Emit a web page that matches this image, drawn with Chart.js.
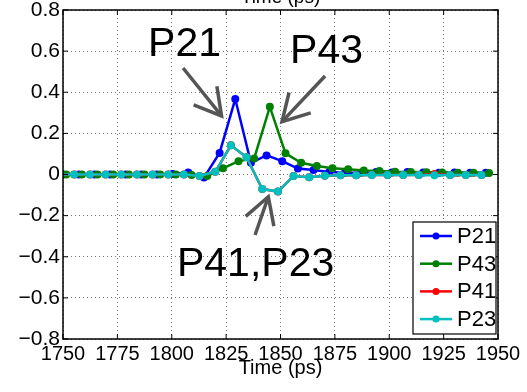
<!DOCTYPE html>
<html>
<head>
<meta charset="utf-8">
<script src="https://cdn.jsdelivr.net/npm/chart.js@4"></script>
<style>
html, body { margin: 0; padding: 0; background: #fff; }
</style>
</head>
<body>
<canvas id="metricChart" width="527" height="392"></canvas>
<script>
// series names and colours (legend order)
const seriesNames = ['P21', 'P43', 'P41', 'P23'];
const seriesColors = ['#0000ff', '#008000', '#ff0000', '#00bfbf'];

// sample times (ps) for each trace
const timeP21 = [1750.0, 1757.2, 1764.4, 1771.6, 1778.8, 1786.0, 1793.2, 1800.4, 1807.6, 1814.8,
                 1822.0, 1829.2, 1836.4, 1843.6, 1850.8, 1858.0, 1865.2, 1872.4, 1879.6, 1886.8,
                 1894.0, 1901.2, 1908.4, 1915.6, 1922.8, 1930.0, 1937.2, 1944.4];
const timeP43 = [1751.5, 1758.7, 1765.9, 1773.1, 1780.3, 1787.5, 1794.7, 1801.9, 1809.1, 1816.3,
                 1823.5, 1830.7, 1837.9, 1845.1, 1852.3, 1859.5, 1866.7, 1873.9, 1881.1, 1888.3,
                 1895.5, 1902.7, 1909.9, 1917.1, 1924.3, 1931.5, 1938.7, 1945.9];
const timeP41 = [1748.0, 1755.2, 1762.4, 1769.6, 1776.8, 1784.0, 1791.2, 1798.4, 1805.6, 1812.8,
                 1820.0, 1827.2, 1834.4, 1841.6, 1848.8, 1856.0, 1863.2, 1870.4, 1877.6, 1884.8,
                 1892.0, 1899.2, 1906.4, 1913.6, 1920.8, 1928.0, 1935.2, 1942.4];
const timeP23 = timeP41;

// values
const valP21 = [0, 0, 0, 0, 0, 0, 0, 0.002, 0.01, -0.015,
                0.105, 0.367, 0.057, 0.093, 0.065, 0.029, 0.022, 0.012, 0.009, 0.009,
                0.012, 0.01, 0.012, 0.01, 0.008, 0.01, 0.008, 0.008];
const valP43 = [0, 0, 0, 0, 0, 0, 0, 0, -0.003, -0.007,
                0.03, 0.065, 0.078, 0.329, 0.103, 0.057, 0.041, 0.03, 0.025, 0.02,
                0.017, 0.013, 0.012, 0.011, 0.01, 0.008, 0.008, 0.007];
const valP41 = [0, 0, 0, 0, 0, 0, 0, 0, 0, -0.007,
                0.013, 0.142, 0.084, -0.071, -0.083, -0.007, -0.013, -0.006, -0.004, -0.004,
                -0.003, -0.003, -0.003, -0.003, 0.002, -0.003, -0.003, -0.002];
const valP23 = [0, 0, 0, 0, 0, 0, 0, 0, 0, -0.007,
                0.013, 0.142, 0.084, -0.071, -0.083, -0.007, -0.013, -0.006, -0.004, -0.004,
                -0.003, -0.003, -0.003, -0.003, -0.004, -0.003, -0.003, -0.002];

// axis ticks
const xTicks = [1750, 1775, 1800, 1825, 1850, 1875, 1900, 1925, 1950];
const yTicks = [-0.8, -0.6, -0.4, -0.2, 0, 0.2, 0.4, 0.6, 0.8];

// annotations: [text, time, value] for the label, arrows as [tailT, tailV, tipT, tipV]
const noteLabels = [['P21', 1789.1, 0.575], ['P43', 1854.4, 0.54], ['P41,P23', 1802.4, -0.494]];
const noteArrows = [[1805.2, 0.518, 1822.9, 0.285], [1870.5, 0.479, 1850.7, 0.257], [1838.3, -0.294, 1844.4, -0.108]];

const FONT = '"Liberation Sans", Arial, sans-serif';

function toXY(times, vals)
{
    return times.map((t, i) => ({x: t, y: vals[i]}));
}

const allTimes = [timeP21, timeP43, timeP41, timeP23];
const allVals = [valP21, valP43, valP41, valP23];
const drawOrder = [3, 2, 1, 0];

const datasets = seriesNames.map((name, i) => ({
    label: name,
    data: toXY(allTimes[i], allVals[i]),
    borderColor: seriesColors[i],
    backgroundColor: seriesColors[i],
    borderWidth: 2.5,
    pointRadius: 4,
    pointBorderWidth: 0,
    pointHoverRadius: 4,
    tension: 0,
    order: drawOrder[i]
}));

function fmtY(v)
{
    if (Math.abs(v) < 1e-9) return '0';
    return (v < 0 ? '\u2212' : '') + Math.abs(v).toFixed(1);
}

const decorPlugin = {
    id: 'decor',
    afterDatasetsDraw(chart)
    {
        const {ctx, chartArea: a, scales: {x, y}} = chart;
        ctx.save();

        // frame and inward ticks
        ctx.strokeStyle = '#000';
        ctx.lineWidth = 1.5;
        ctx.strokeRect(a.left, a.top, a.right - a.left, a.bottom - a.top);
        ctx.lineWidth = 1;
        ctx.beginPath();
        xTicks.forEach(t => {
            const px = x.getPixelForValue(t);
            ctx.moveTo(px, a.bottom); ctx.lineTo(px, a.bottom - 5);
            ctx.moveTo(px, a.top); ctx.lineTo(px, a.top + 5);
        });
        yTicks.forEach(v => {
            const py = y.getPixelForValue(v);
            ctx.moveTo(a.left, py); ctx.lineTo(a.left + 5, py);
            ctx.moveTo(a.right, py); ctx.lineTo(a.right - 5, py);
        });
        ctx.stroke();

        // annotation arrows
        ctx.strokeStyle = '#555';
        ctx.lineWidth = 3.5;
        ctx.lineCap = 'butt';
        ctx.lineJoin = 'miter';
        noteArrows.forEach(([t1, v1, t2, v2]) => {
            const x1 = x.getPixelForValue(t1), y1 = y.getPixelForValue(v1);
            const x2 = x.getPixelForValue(t2), y2 = y.getPixelForValue(v2);
            const ang = Math.atan2(y1 - y2, x1 - x2);
            ctx.beginPath();
            ctx.moveTo(x1, y1); ctx.lineTo(x2, y2);
            ctx.stroke();
            ctx.beginPath();
            ctx.moveTo(x2 + 30 * Math.cos(ang + 0.52), y2 + 30 * Math.sin(ang + 0.52));
            ctx.lineTo(x2, y2);
            ctx.lineTo(x2 + 30 * Math.cos(ang - 0.52), y2 + 30 * Math.sin(ang - 0.52));
            ctx.stroke();
        });

        // annotation text
        ctx.fillStyle = '#000';
        ctx.font = '41px ' + FONT;
        ctx.textAlign = 'left';
        ctx.textBaseline = 'alphabetic';
        noteLabels.forEach(([txt, t, v]) => {
            ctx.fillText(txt, x.getPixelForValue(t), y.getPixelForValue(v));
        });

        // legend box
        const lx = a.right - 85, ly = a.bottom - 117, lw = 83, lh = 112;
        ctx.fillStyle = '#fff';
        ctx.fillRect(lx, ly, lw, lh);
        ctx.strokeStyle = '#000';
        ctx.lineWidth = 1.2;
        ctx.strokeRect(lx, ly, lw, lh);
        ctx.font = '22px ' + FONT;
        ctx.textBaseline = 'middle';
        seriesNames.forEach((name, i) => {
            const ry = ly + 14 + i * 27.7;
            ctx.strokeStyle = seriesColors[i];
            ctx.lineWidth = 2.5;
            ctx.beginPath();
            ctx.moveTo(lx + 7, ry); ctx.lineTo(lx + 39, ry);
            ctx.stroke();
            ctx.fillStyle = seriesColors[i];
            ctx.beginPath();
            ctx.arc(lx + 23, ry, 3.5, 0, Math.PI * 2);
            ctx.fill();
            ctx.fillStyle = '#000';
            ctx.fillText(name, lx + 44, ry + 1);
        });

        // cut-off axis title of the panel above
        ctx.font = '19px ' + FONT;
        ctx.textAlign = 'center';
        ctx.textBaseline = 'alphabetic';
        ctx.fillText('Time (ps)', (a.left + a.right) / 2, 3);

        ctx.restore();
    }
};

const ctx = document.getElementById('metricChart').getContext('2d');
new Chart(ctx, {
    type: 'line',
    data: { datasets: datasets },
    options: {
        responsive: false,
        animation: false,
        devicePixelRatio: 1,
        layout: { padding: { top: 10, right: 29, left: 0, bottom: 0 } },
        plugins: {
            legend: { display: false },
            tooltip: { enabled: false }
        },
        scales: {
            x: {
                type: 'linear',
                min: 1750,
                max: 1950,
                afterBuildTicks: s => { s.ticks = xTicks.map(v => ({value: v})); },
                afterFit: s => { s.height = 53; s.paddingLeft = 0; s.paddingRight = 0; },
                ticks: {
                    color: '#000',
                    padding: 3,
                    maxRotation: 0,
                    autoSkip: false,
                    font: { family: FONT, size: 20 },
                    callback: v => String(v)
                },
                grid: { color: 'rgba(0,0,0,0.55)', lineWidth: 1, drawTicks: false },
                border: { display: false, dash: [1, 3] },
                title: {
                    display: true,
                    text: 'Time (ps)',
                    color: '#000',
                    font: { family: FONT, size: 20 },
                    padding: { top: 0, bottom: 12 }
                }
            },
            y: {
                type: 'linear',
                min: -0.8,
                max: 0.8,
                afterBuildTicks: s => { s.ticks = yTicks.map(v => ({value: v})); },
                afterFit: s => { s.width = 63; s.paddingTop = 0; s.paddingBottom = 0; },
                ticks: {
                    color: '#000',
                    padding: 3,
                    autoSkip: false,
                    font: { family: FONT, size: 21 },
                    callback: v => fmtY(v)
                },
                grid: { color: 'rgba(0,0,0,0.55)', lineWidth: 1, drawTicks: false },
                border: { display: false, dash: [1, 3] }
            }
        }
    },
    plugins: [decorPlugin]
});
</script>
</body>
</html>
